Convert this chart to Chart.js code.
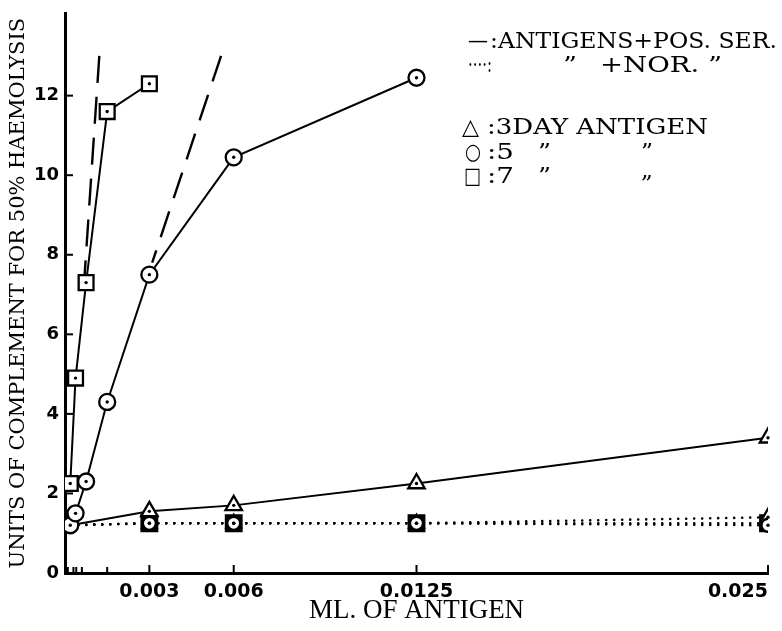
<!DOCTYPE html>
<html><head><meta charset="utf-8">
<script src="https://cdn.jsdelivr.net/npm/chart.js@4/dist/chart.umd.min.js"></script>
<style>html,body{margin:0;padding:0;background:#fff}canvas{display:block}</style>
</head><body>
<canvas id="c" width="782" height="631"></canvas>
<script>
// ---- data ----
const xTickValues = [0, 0.003, 0.006, 0.0125, 0.025];
const xTickLabels = ['', '0.003', '0.006', '0.0125', '0.025'];
const xMinorTicks = [0.0001, 0.0003, 0.0004, 0.0006, 0.0015];
const yTickValues = [0, 2, 4, 6, 8, 10, 12];

const dose7Pos = [0.0001875, 0.000375, 0.00075, 0.0015, 0.003];
const units7Pos = [2.25, 4.9, 7.3, 11.6, 12.3];
const dose5Pos = [0.0001875, 0.000375, 0.00075, 0.0015, 0.003, 0.006, 0.0125];
const units5Pos = [1.2, 1.5, 2.3, 4.3, 7.5, 10.45, 12.45];
const dose3Pos = [0.0001875, 0.003, 0.006, 0.0125, 0.025];
const units3Pos = [1.2, 1.55, 1.7, 2.25, 3.4];
const doseNor = [0.0001875, 0.003, 0.006, 0.0125, 0.025];
const units3Nor = [1.2, 1.25, 1.25, 1.25, 1.4];
const units5Nor = [1.2, 1.25, 1.25, 1.25, 1.2];
const units7Nor = [1.2, 1.25, 1.25, 1.25, 1.25];
const dashA_x = [0.00122, 0.00068];
const dashA_y = [13.0, 7.3];
const dashB_x = [0.00555, 0.0031];
const dashB_y = [13.0, 7.8];

const pts = (xs, ys) => xs.map((x, i) => ({x: x, y: ys[i]}));
const hideFirst = (r, n) => Array.from({length: n}, (_, i) => i === 0 ? 0 : r);

const base = {
  borderColor: '#000', borderWidth: 2, pointBorderColor: '#000',
  pointBackgroundColor: '#fff', pointBorderWidth: 2.3, tension: 0, fill: false
};
const dotted = { borderWidth: 2.6, borderDash: [0, 8], borderCapStyle: 'round' };

const datasets = [
  Object.assign({}, base, { label: '7 day + pos. ser.', data: pts(dose7Pos, units7Pos), pointStyle: 'rect', pointRadius: 10.5, order: 1, dots: true }),
  Object.assign({}, base, { label: '5 day + pos. ser.', data: pts(dose5Pos, units5Pos), pointStyle: 'circle', pointRadius: 8, order: 2, dots: true }),
  Object.assign({}, base, { label: '3 day + pos. ser.', data: pts(dose3Pos, units3Pos), pointStyle: 'triangle', pointRadius: hideFirst(9.5, dose3Pos.length), order: 3, dots: true }),
  Object.assign({}, base, { label: 'dashed A', data: pts(dashA_x, dashA_y), pointRadius: 0, borderWidth: 2.4, borderDash: [27, 14], order: 5 }),
  Object.assign({}, base, { label: 'dashed B', data: pts(dashB_x, dashB_y), pointRadius: 0, borderWidth: 2.4, borderDash: [27, 14], order: 5 }),
  Object.assign({}, base, dotted, { label: '5 day + nor. ser.', data: pts(doseNor, units5Nor), pointStyle: 'circle', pointRadius: hideFirst(6.5, doseNor.length), order: 8, dots: true }),
  Object.assign({}, base, dotted, { label: '3 day + nor. ser.', data: pts(doseNor, units3Nor), pointStyle: 'triangle', pointRadius: hideFirst(8.5, doseNor.length), order: 9, dots: true }),
  Object.assign({}, base, dotted, { label: '7 day + nor. ser.', data: pts(doseNor, units7Nor), pointStyle: 'rect', pointBackgroundColor: '#000', pointRadius: hideFirst(11, doseNor.length), order: 10 })
];

const decor = {
  id: 'decor',
  afterDatasetsDraw(chart) {
    const ctx = chart.ctx;
    ctx.save();
    ctx.fillStyle = '#000';
    chart.data.datasets.forEach((ds, i) => {
      if (!ds.dots) return;
      const meta = chart.getDatasetMeta(i);
      meta.data.forEach(el => {
        if (el.options.radius > 0) {
          ctx.beginPath(); ctx.arc(el.x, el.y, 1.7, 0, Math.PI * 2); ctx.fill();
        }
      });
    });
    ctx.restore();
  },
  afterDraw(chart) {
    const ctx = chart.ctx, xs = chart.scales.x, ys = chart.scales.y;
    ctx.save();
    ctx.strokeStyle = '#000'; ctx.lineWidth = 2;
    const line = (a, b, c, d) => { ctx.beginPath(); ctx.moveTo(a, b); ctx.lineTo(c, d); ctx.stroke(); };
    xTickValues.slice(1).forEach(v => { const p = xs.getPixelForValue(v); line(p, ys.bottom, p, ys.bottom - 8); });
    xMinorTicks.forEach(v => { const p = xs.getPixelForValue(v); line(p, ys.bottom, p, ys.bottom - 6); });
    yTickValues.slice(1).forEach(v => { const p = ys.getPixelForValue(v); line(xs.left, p, xs.left + 8, p); });

    // legend text
    ctx.fillStyle = '#000';
    ctx.textBaseline = 'middle';
    const stretch = (t, x0, x1, y, font) => {
      ctx.font = font;
      const w = ctx.measureText(t).width;
      ctx.save(); ctx.translate(x0, y); ctx.scale((x1 - x0) / w, 1); ctx.fillText(t, 0, 0); ctx.restore();
    };
    const F = '22px "DejaVu Serif"';
    stretch('\u2014', 468, 488, 42, F);
    stretch(':ANTIGENS+POS. SER.', 490, 777, 42, F);
    stretch('\u00B7\u00B7\u00B7\u00B7:', 468, 492, 66, F);
    stretch('\u201D', 563, 577, 66, F);
    stretch('+NOR. \u201D', 600, 722, 66, F);
    const S = 'bold 22px "DejaVu Sans"';
    stretch('\u25B3', 462, 479, 128, S);
    stretch(':3DAY ANTIGEN', 487, 708, 128, F);
    stretch('\u25CB', 465, 481, 153, S);
    stretch(':5', 487, 514, 153, F);
    stretch('\u201D', 538, 551, 153, F);
    stretch('\u201D', 641, 653, 153, F);
    stretch('\u25A1', 464, 481, 177, S);
    stretch(':7', 487, 514, 177, F);
    stretch('\u201D', 538, 551, 177, F);
    stretch('\u201E', 641, 653, 172, F);
    ctx.restore();
  }
};

new Chart(document.getElementById('c'), {
  type: 'line',
  data: { datasets: datasets },
  options: {
    responsive: false, animation: false,
    layout: { padding: { top: 10, right: 14, left: 0, bottom: 0 } },
    plugins: { legend: { display: false }, tooltip: { enabled: false } },
    scales: {
      x: {
        type: 'linear', min: 0, max: 0.025,
        afterBuildTicks: s => { s.ticks = xTickValues.map(v => ({value: v})); },
        afterFit: s => { s.height = 58; s.paddingLeft = 0; s.paddingRight = 0; },
        ticks: {
          callback: v => xTickLabels[xTickValues.indexOf(v)],
          align: 'inner', padding: 8, maxRotation: 0, autoSkip: false, color: '#000',
          font: { family: 'DejaVu Sans', size: 19, weight: 'bold' }
        },
        grid: { display: true, drawOnChartArea: false, drawTicks: false },
        border: { display: true, width: 3, color: '#000' },
        title: { display: true, text: 'ML. OF ANTIGEN', color: '#000',
          font: { family: 'Liberation Serif', size: 27 }, padding: { top: 0, bottom: 4 } }
      },
      y: {
        type: 'linear', min: 0, max: 14.07,
        afterBuildTicks: s => { s.ticks = yTickValues.map(v => ({value: v})); },
        afterFit: s => { s.width = 65; s.paddingTop = 0; s.paddingBottom = 0; },
        ticks: { padding: 6, color: '#000', font: { family: 'DejaVu Sans', size: 18, weight: 'bold' } },
        grid: { display: true, drawOnChartArea: false, drawTicks: false },
        border: { display: true, width: 3, color: '#000' },
        title: { display: true, text: 'UNITS OF COMPLEMENT FOR 50% HAEMOLYSIS', color: '#000',
          font: { family: 'DejaVu Serif', size: 21 }, padding: { top: 6, bottom: 0 } }
      }
    }
  },
  plugins: [decor]
});
</script>
</body></html>
